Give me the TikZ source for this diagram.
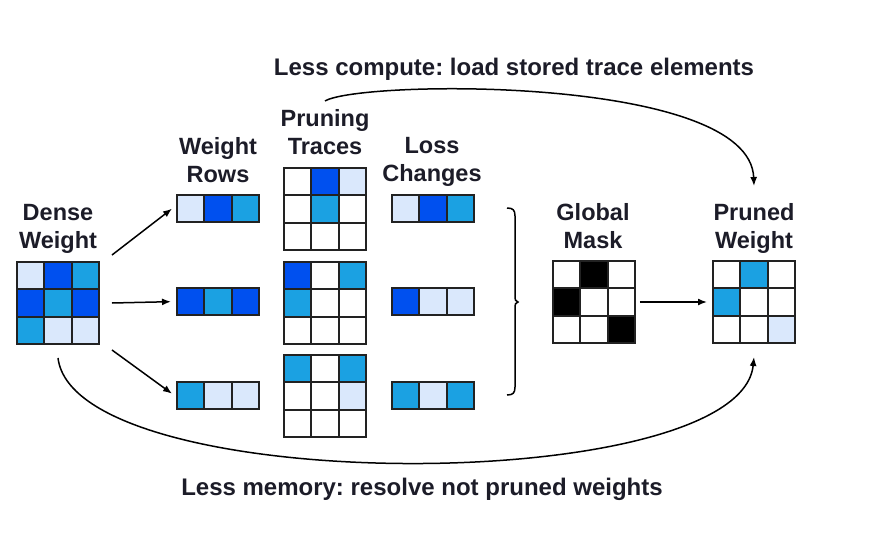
\documentclass[tikz,border=0pt]{standalone}
\usepackage{fontspec}
\setmainfont{Liberation Sans}
\usetikzlibrary{arrows.meta,calc}
\definecolor{cD}{HTML}{0050EF}
\definecolor{cM}{HTML}{1BA1E2}
\definecolor{cL}{HTML}{DAE8FC}
\definecolor{txt}{HTML}{1C1C28}
\definecolor{edgecol}{HTML}{222222}
\frenchspacing
\newcommand{\cw}{27.33}
% #1 name, #2 x, #3 y (top-left), #4 rows, #5 colours row-major
\newcommand{\cellgrid}[5]{%
  \foreach \cl [count=\ii from 0] in {#5} {
    \pgfmathtruncatemacro\rr{floor(\ii/3)}
    \pgfmathtruncatemacro\kk{mod(\ii,3)}
    \filldraw[cellstyle, fill=\cl] ({#2+\kk*\cw},{#3+\rr*\cw}) rectangle ++(\cw,\cw);
  }
  \node[gridbox, minimum width=3*\cw, minimum height=#4*\cw] (#1) at ({#2+1.5*\cw},{#3+#4*\cw/2}) {};
}
\begin{document}
\begin{tikzpicture}[x=1pt,y=-1pt,
  cellstyle/.style={draw=edgecol, line width=2.2pt},
  gridbox/.style={draw=none, inner sep=0pt, outer sep=0pt},
  lbl/.style={font=\fontsize{23.5}{28.5}\selectfont\bfseries, text=txt, align=center, inner sep=0pt, anchor=north},
  note/.style={font=\fontsize{24}{28.5}\selectfont\bfseries, text=txt, inner sep=0pt, anchor=base},
  arr/.style={line width=1.5pt, draw=black, -{Latex[length=9pt,width=7pt]}},
  curve/.style={line width=1.5pt, draw=black, -{Latex[length=9pt,width=7pt]}}
]
\useasboundingbox (0,0) rectangle (880,558);
\fill[white] (0,0) rectangle (880,558);

% labels (north = first baseline - 18)
\node[lbl] (dwlabel) at (58,202) {\rule{0pt}{18pt}Dense\\Weight};
\node[lbl] (wrlabel) at (218,136) {\rule{0pt}{18pt}Weight\\Rows};
\node[lbl] (ptlabel) at (325,108) {\rule{0pt}{18pt}Pruning\\Traces};
\node[lbl] (lclabel) at (432,135) {\rule{0pt}{18pt}Loss\\Changes};
\node[lbl] (gmlabel) at (593,202) {\rule{0pt}{18pt}Global\\Mask};
\node[lbl] (pwlabel) at (754,202) {\rule{0pt}{18pt}Pruned\\Weight};

\node[note] (compute) at (514,75) {Less compute: load stored trace elements};
\node[note] (memory) at (422,495) {Less memory: resolve not pruned weights};

% grids
\cellgrid{dense}{17}{262}{3}{cL,cD,cM,cD,cM,cD,cM,cL,cL}
\cellgrid{row1}{177}{195}{1}{cL,cD,cM}
\cellgrid{row2}{177}{288}{1}{cD,cM,cD}
\cellgrid{row3}{177}{382}{1}{cM,cL,cL}
\cellgrid{trace1}{284}{168}{3}{white,cD,cL,white,cM,white,white,white,white}
\cellgrid{trace2}{284}{262}{3}{cD,white,cM,cM,white,white,white,white,white}
\cellgrid{trace3}{284}{355}{3}{cM,white,cM,white,white,cL,white,white,white}
\cellgrid{loss1}{392}{195}{1}{cL,cD,cM}
\cellgrid{loss2}{392}{288}{1}{cD,cL,cL}
\cellgrid{loss3}{392}{382}{1}{cM,cL,cM}
\cellgrid{mask}{553}{261}{3}{white,black,white,black,white,white,white,white,black}
\cellgrid{pruned}{713}{261}{3}{white,cM,white,cM,white,white,white,white,cL}

% arrows from dense weight to rows
\draw[arr] ($(dense.north east)+(13,-7)$) -- ($(row1.west)+(-5,0)$);
\draw[arr] ($(dense.east)+(13,0)$) -- ($(row2.west)+(-6,0)$);
\draw[arr] ($(dense.south east)+(13,6)$) -- ($(row3.west)+(-5,-2)$);
\draw[arr] ($(mask.east)+(5,0)$) -- ($(pruned.west)+(-6,0)$);

% bracket
\draw[line width=1.5pt] (507,208) .. controls (513,208) and (515,210) .. (515,216) -- (515,297)
  .. controls (515,300) .. (518,302) .. controls (515,304) .. (515,307) -- (515,387)
  .. controls (515,393) and (513,395) .. (507,395);

% top arc
\draw[curve] ($(ptlabel.north)+(0,-7)$) .. controls (360,80) and (750,75) .. ($(pwlabel.north)+(0,-16)$);
% bottom arc
\draw[curve] ($(dense.south)+(0,14)$) .. controls ($(dense.south)+(17,154)$) and ($(pruned.south)+(-14,154)$) .. ($(pruned.south)+(0,14)$);
\end{tikzpicture}
\end{document}
